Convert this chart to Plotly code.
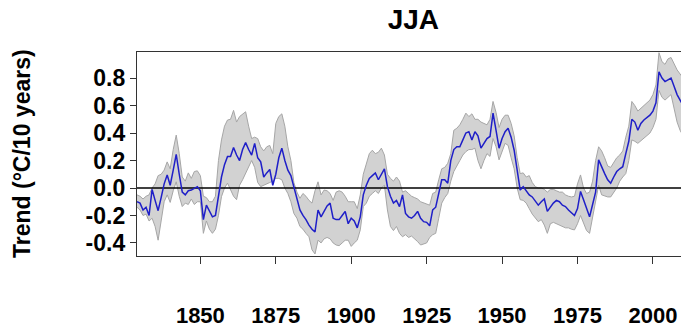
import plotly.graph_objects as go

# Running 30-year JJA temperature trend (°C/10 years) with its uncertainty band
years = list(range(1829, 2011))

trend = [
    -0.10, -0.11, -0.16, -0.14, -0.20, -0.01, -0.09, -0.165, -0.07, 0.03,      # 1829-1838
    0.095, 0.02, 0.13, 0.245, 0.10, -0.03, -0.05, -0.02, -0.015, 0.00,         # 1839-1848
    0.01, -0.02, -0.23, -0.125, -0.17, -0.21, -0.20, -0.05, 0.08, 0.17,        # 1849-1858
    0.23, 0.23, 0.295, 0.24, 0.20, 0.28, 0.33, 0.28, 0.24, 0.325,              # 1859-1868
    0.22, 0.19, 0.08, 0.11, 0.135, 0.02, 0.10, 0.22, 0.29, 0.20,               # 1869-1878
    0.13, 0.09, 0.00, -0.09, -0.16, -0.20, -0.23, -0.27, -0.30, -0.32,         # 1879-1888
    -0.16, -0.21, -0.17, -0.13, -0.11, -0.22, -0.23, -0.23, -0.20, -0.17,      # 1889-1898
    -0.26, -0.22, -0.24, -0.29, -0.21, -0.05, 0.02, 0.07, 0.09, 0.11,          # 1899-1908
    0.06, 0.10, 0.14, 0.01, -0.06, -0.11, -0.09, -0.135, -0.05, -0.185,        # 1909-1918
    -0.21, -0.22, -0.20, -0.17, -0.22, -0.245, -0.25, -0.275, -0.16, -0.14,    # 1919-1928
    -0.05, 0.06, 0.06, 0.035, 0.20, 0.28, 0.30, 0.30, 0.35, 0.40,              # 1929-1938
    0.41, 0.35, 0.41, 0.38, 0.29, 0.33, 0.36, 0.375, 0.545, 0.42,              # 1939-1948
    0.29, 0.36, 0.41, 0.435, 0.37, 0.275, 0.12, -0.015, 0.01, -0.025,          # 1949-1958
    -0.05, -0.065, -0.10, -0.125, -0.10, -0.08, -0.17, -0.14, -0.11, -0.09,    # 1959-1968
    -0.10, -0.125, -0.135, -0.16, -0.18, -0.20, -0.15, -0.025, -0.085, -0.15,  # 1969-1978
    -0.21, -0.12, -0.03, 0.205, 0.15, 0.105, 0.06, 0.035, 0.08, 0.12,          # 1979-1988
    0.14, 0.155, 0.25, 0.34, 0.50, 0.48, 0.42, 0.47, 0.495, 0.51,              # 1989-1998
    0.53, 0.56, 0.62, 0.845, 0.80, 0.775, 0.79, 0.80, 0.74, 0.68,              # 1999-2008
    0.64, 0.60,                                                                # 2009-2010
]

trend_low = [
    -0.14, -0.16, -0.20, -0.19, -0.24, -0.22, -0.28, -0.38, -0.24, -0.10,      # 1829-1838
    -0.05, -0.105, -0.02, 0.045, -0.06, -0.135, -0.11, -0.12, -0.08, -0.12,    # 1839-1848
    -0.10, -0.10, -0.33, -0.24, -0.30, -0.33, -0.30, -0.20, -0.063, 0.00,      # 1849-1858
    0.035, -0.015, -0.06, -0.085, 0.02, 0.06, 0.105, 0.15, 0.20, 0.15,         # 1859-1868
    0.04, 0.01, 0.02, 0.03, 0.04, 0.05, 0.07, 0.07, 0.06, 0.00,                # 1869-1878
    -0.04, -0.10, -0.185, -0.22, -0.28, -0.30, -0.33, -0.355, -0.45, -0.48,    # 1879-1888
    -0.38, -0.40, -0.37, -0.36, -0.37, -0.40, -0.415, -0.42, -0.40, -0.38,     # 1889-1898
    -0.38, -0.425, -0.40, -0.38, -0.305, -0.135, -0.11, -0.06, -0.04, -0.02,   # 1899-1908
    -0.04, 0.00, 0.02, -0.16, -0.28, -0.31, -0.28, -0.33, -0.355, -0.34,       # 1909-1918
    -0.36, -0.35, -0.37, -0.39, -0.415, -0.41, -0.40, -0.36, -0.34, -0.33,     # 1919-1928
    -0.22, -0.11, -0.07, -0.04, 0.05, 0.12, 0.155, 0.20, 0.24, 0.265,          # 1929-1938
    0.28, 0.28, 0.29, 0.20, 0.14, 0.20, 0.25, 0.23, 0.36, 0.30,                # 1939-1948
    0.205, 0.27, 0.325, 0.31, 0.22, 0.14, 0.00, -0.085, -0.09, -0.11,          # 1949-1958
    -0.15, -0.19, -0.22, -0.245, -0.23, -0.27, -0.33, -0.26, -0.25, -0.26,     # 1959-1968
    -0.27, -0.28, -0.29, -0.29, -0.30, -0.305, -0.26, -0.20, -0.26, -0.31,     # 1969-1978
    -0.33, -0.20, -0.09, 0.02, -0.05, -0.06, -0.065, -0.065, -0.03, 0.00,      # 1979-1988
    0.05, 0.08, 0.105, 0.20, 0.35, 0.34, 0.325, 0.34, 0.36, 0.38,              # 1989-1998
    0.40, 0.44, 0.50, 0.71, 0.66, 0.64, 0.66, 0.68, 0.58, 0.48,                # 1999-2008
    0.42, 0.38,                                                                # 2009-2010
]

trend_high = [
    -0.05, -0.06, -0.08, -0.06, -0.05, 0.00, 0.03, 0.09, 0.10, 0.13,           # 1829-1838
    0.19, 0.14, 0.28, 0.385, 0.25, 0.08, 0.05, 0.11, 0.07, 0.12,               # 1839-1848
    0.125, 0.09, -0.06, -0.07, -0.10, -0.10, -0.06, 0.20, 0.35, 0.45,          # 1849-1858
    0.495, 0.50, 0.565, 0.48, 0.52, 0.54, 0.555, 0.45, 0.36, 0.37,             # 1859-1868
    0.36, 0.30, 0.27, 0.30, 0.31, 0.25, 0.47, 0.52, 0.54, 0.45,                # 1869-1878
    0.30, 0.20, 0.04, -0.03, -0.075, -0.04, -0.06, -0.09, -0.11, -0.02,        # 1879-1888
    0.045, -0.05, -0.015, -0.02, -0.04, -0.09, -0.03, -0.02, -0.03, -0.06,     # 1889-1898
    -0.10, -0.10, -0.10, -0.15, -0.05, 0.10, 0.18, 0.25, 0.275, 0.25,          # 1899-1908
    0.26, 0.29, 0.24, 0.10, 0.07, 0.05, 0.08, 0.05, -0.03, -0.02,              # 1909-1918
    -0.04, -0.06, -0.07, -0.08, -0.10, -0.11, -0.12, -0.125, -0.04, -0.03,     # 1919-1928
    0.06, 0.14, 0.15, 0.18, 0.25, 0.42, 0.435, 0.46, 0.50, 0.545,              # 1929-1938
    0.52, 0.54, 0.50, 0.50, 0.48, 0.47, 0.46, 0.50, 0.63, 0.55,                # 1939-1948
    0.44, 0.50, 0.53, 0.53, 0.47, 0.38, 0.22, 0.105, 0.11, 0.08,               # 1949-1958
    0.09, 0.04, 0.01, 0.00, 0.00, -0.01, -0.03, -0.01, -0.01, -0.02,           # 1959-1968
    -0.03, -0.03, -0.05, -0.06, -0.065, -0.06, 0.03, 0.095, 0.00, -0.04,       # 1969-1978
    -0.03, 0.05, 0.20, 0.30, 0.27, 0.22, 0.16, 0.15, 0.19, 0.22,               # 1979-1988
    0.24, 0.27, 0.37, 0.45, 0.63, 0.60, 0.56, 0.58, 0.60, 0.62,                # 1989-1998
    0.64, 0.68, 0.75, 0.985, 0.92, 0.90, 0.94, 0.95, 0.90, 0.86,               # 1999-2008
    0.83, 0.80,                                                                # 2009-2010
]

x_range = [1829.0, 2009.3]
y_range = [-0.495, 0.99]
y_ticks = [-0.4, -0.2, 0.0, 0.2, 0.4, 0.6, 0.8]
y_tick_text = ["-0.4", "-0.2", "0.0", "0.2", "0.4", "0.6", "0.8"]
x_ticks = [1850, 1875, 1900, 1925, 1950, 1975, 2000]

FONT = "Liberation Sans, Arial, sans-serif"

fig = go.Figure()

# uncertainty envelope as one closed polygon
fig.add_trace(go.Scatter(
    x=years + years[::-1],
    y=trend_high + trend_low[::-1],
    fill="toself",
    fillcolor="#d2d2d2",
    line=dict(color="#a6a6a6", width=1),
    mode="lines",
    hoverinfo="skip",
    showlegend=False,
))

# zero reference line across the full axis
fig.add_trace(go.Scatter(
    x=x_range, y=[0, 0], mode="lines",
    line=dict(color="black", width=1.3),
    hoverinfo="skip", showlegend=False,
))

# central trend estimate
fig.add_trace(go.Scatter(
    x=years, y=trend, mode="lines",
    line=dict(color="#1f1fc8", width=1.5),
    showlegend=False,
))

fig.update_layout(
    width=681, height=327,
    margin=dict(l=137, r=0, t=52, b=71, autoexpand=False),
    paper_bgcolor="white", plot_bgcolor="white",
    font=dict(family=FONT, color="black"),
    title=dict(
        text="<b>JJA</b>", xref="container", x=0.607, xanchor="center",
        yref="container", y=0.94, yanchor="middle",
        font=dict(family=FONT, size=28, color="black"),
    ),
)

fig.update_xaxes(
    range=x_range, tickvals=x_ticks,
    ticktext=[f"<b>{v}</b>" for v in x_ticks],
    showgrid=False, zeroline=False, automargin=False,
    showline=True, linecolor="#333333", linewidth=1.3, mirror=True,
    ticks="outside", ticklen=7, tickwidth=1.2, tickcolor="#333333",
    ticklabelstandoff=32,
    tickfont=dict(family=FONT, size=22, color="black"),
)

fig.update_yaxes(
    range=y_range, tickvals=y_ticks,
    ticktext=[f"<b>{t}</b>" for t in y_tick_text],
    showgrid=False, zeroline=False, automargin=False,
    showline=True, linecolor="#333333", linewidth=1.3, mirror=False,
    ticks="outside", ticklen=6, tickwidth=1.2, tickcolor="#333333",
    tickfont=dict(family=FONT, size=23, color="black"),
)

fig.add_annotation(
    text="<b>Trend (°C/10 years)</b>", textangle=-90,
    xref="paper", yref="paper", x=(22 - 137) / 544, y=0.5,
    xanchor="center", yanchor="middle", showarrow=False,
    font=dict(family=FONT, size=23, color="black"),
)

fig.write_html("out.html")
